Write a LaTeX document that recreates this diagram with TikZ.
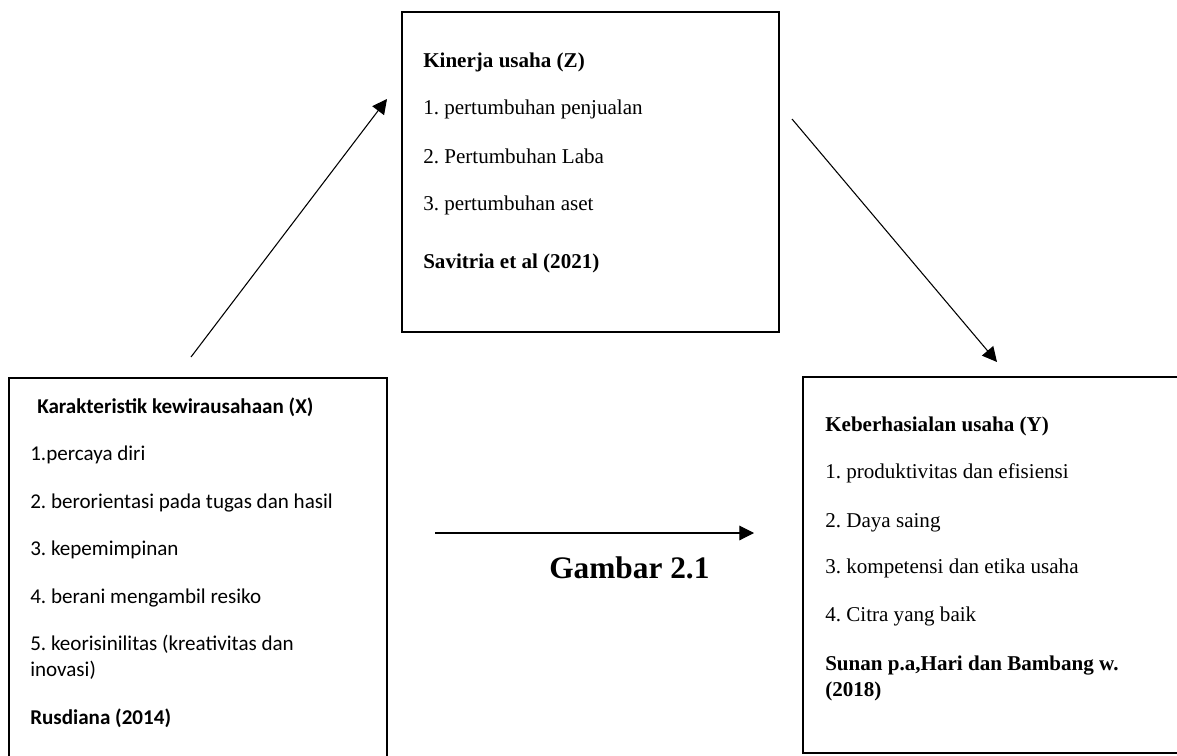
\documentclass[tikz,border=0pt]{standalone}
\usepackage{fontspec}
\setmainfont{Liberation Serif}
\newfontfamily\carlito{Carlito}
\usetikzlibrary{arrows.meta}
\frenchspacing
\begin{document}
\begin{tikzpicture}[x=0.75pt,y=-0.75pt,
  box/.style={draw, line width=1.5pt, rectangle, inner sep=0pt},
  tx/.style={anchor=base west, inner sep=0pt, font=\fontsize{15.8}{19}\selectfont},
  cx/.style={anchor=base west, inner sep=0pt, font=\carlito\fontsize{15.8}{19}\selectfont},
  link/.style={line width=0.8pt, -{Triangle[length=11pt,width=11pt]}}]
\useasboundingbox (0,0) rectangle (1177,756);
\fill[white] (0,0) rectangle (1177,756);
% boxes
\node[box, minimum width=283.5pt, minimum height=294pt] (X) at (198,574) {};
\node[box, minimum width=282.75pt, minimum height=240pt] (Z) at (590.5,172) {};
\node[box, minimum width=290.25pt, minimum height=282pt] (Y) at (996.5,565) {};
% X text
\node[cx, font=\carlito\bfseries\fontsize{15.8}{19}\selectfont] (x0) at (37,413) {Karakteristik kewirausahaan (X)};
\node[cx] (x1) at (30,460) {1.percaya diri};
\node[cx] (x2) at (30,508) {2. berorientasi pada tugas dan hasil};
\node[cx] (x3) at (30,555) {3. kepemimpinan};
\node[cx] (x4) at (30,603) {4. berani mengambil resiko};
\node[cx] (x5) at (30,650) {5. keorisinilitas (kreativitas dan};
\node[cx] (x5b) at (30,676) {inovasi)};
\node[cx, font=\carlito\bfseries\fontsize{15.8}{19}\selectfont] (x6) at (30,724) {Rusdiana (2014)};
% Z text
\node[tx, font=\bfseries\fontsize{15.8}{19}\selectfont] (z0) at (423,68) {Kinerja usaha (Z)};
\node[tx] (z1) at (423,115) {1. pertumbuhan penjualan};
\node[tx] (z2) at (423,163) {2. Pertumbuhan Laba};
\node[tx] (z3) at (423,210) {3. pertumbuhan aset};
\node[tx, font=\bfseries\fontsize{15.8}{19}\selectfont] (z4) at (423,268) {Savitria et al (2021)};
% Y text
\node[tx, font=\bfseries\fontsize{15.8}{19}\selectfont] (y0) at (825,431) {Keberhasialan usaha (Y)};
\node[tx] (y1) at (825,478) {1. produktivitas dan efisiensi};
\node[tx] (y2) at (825,527) {2. Daya saing};
\node[tx] (y3) at (825,573) {3. kompetensi dan etika usaha};
\node[tx] (y4) at (825,621) {4. Citra yang baik};
\node[tx, font=\bfseries\fontsize{15.8}{19}\selectfont] (y5) at (825,670) {Sunan p.a,Hari dan Bambang w.};
\node[tx, font=\bfseries\fontsize{15.8}{19}\selectfont] (y6) at (825,696) {(2018)};
% caption
\node[anchor=base west, inner sep=0pt, font=\bfseries\fontsize{23.5}{28}\selectfont] (cap) at (549,578) {Gambar 2.1};
% arrows
\coordinate (a1s) at (191,357); \coordinate (a1e) at (387,99);
\coordinate (a2s) at (792,119); \coordinate (a2e) at (997,362);
\coordinate (a3s) at (435,533); \coordinate (a3e) at (754,533);
\draw[link] (a1s) -- (a1e);
\draw[link] (a2s) -- (a2e);
\draw[link] (a3s) -- (a3e);
\end{tikzpicture}
\end{document}
